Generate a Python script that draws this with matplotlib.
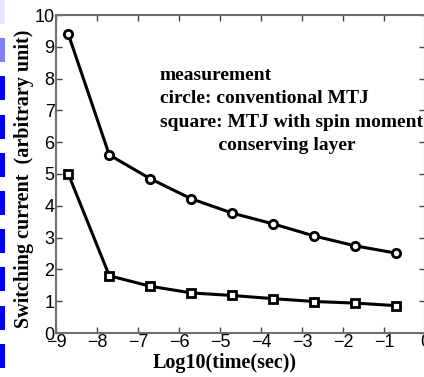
import matplotlib
matplotlib.use("Agg")
import matplotlib.pyplot as plt
from matplotlib.patches import Rectangle

# log10 of pulse time (s)
log_time = [-8.7, -7.7, -6.7, -5.7, -4.7, -3.7, -2.7, -1.7, -0.7]
# switching current, conventional MTJ (circles)
current_conv = [9.4, 5.6, 4.85, 4.22, 3.77, 3.43, 3.05, 2.74, 2.51]
# switching current, MTJ with spin moment conserving layer (squares)
current_smcl = [5.0, 1.8, 1.47, 1.26, 1.18, 1.08, 0.99, 0.94, 0.86]

x_ticks = [-9, -8, -7, -6, -5, -4, -3, -2, -1, 0]
y_ticks = list(range(0, 11))

note_lines = [
    "measurement",
    "circle: conventional MTJ",
    "square: MTJ with spin moment",
    "            conserving layer",
]

W, H = 424, 377
fig = plt.figure(figsize=(W / 100, H / 100), dpi=100)
fig.patch.set_facecolor("white")

# axes runs to the right edge of the canvas
ax = fig.add_axes([56 / W, 1 - 333 / H, 369 / W, 318 / H])

line_kw = dict(color="black", linewidth=2.2, markersize=6,
               markeredgewidth=2.0, markerfacecolor="white",
               markeredgecolor="black")
ax.plot(log_time, current_conv, marker="o", **line_kw)
ax.plot(log_time, current_smcl, marker="s", **line_kw)

ax.set_xlim(-9, 0)
ax.set_ylim(0, 10)
ax.set_xticks(x_ticks)
ax.set_yticks(y_ticks)
ax.tick_params(direction="in", top=True, right=True, length=4,
               width=1.0, color="#444444", labelsize=13, pad=1)
for lab in ax.get_xticklabels() + ax.get_yticklabels():
    lab.set_family("Liberation Sans")
for sp in ax.spines.values():
    sp.set_color("#6e6e6e")
    sp.set_linewidth(1.5)

serif_bold = dict(family="Liberation Serif", fontweight="bold")
ax.set_xlabel("Log10(time(sec))", fontsize=14.5, va="center", **serif_bold)
ax.set_ylabel("Switching current  (arbitrary unit)", fontsize=14.5,
              va="center", **serif_bold)
ax.xaxis.set_label_coords(0.458, -0.094)
ax.yaxis.set_label_coords(-0.087, 0.484)

for i, txt in enumerate(note_lines):
    fig.text(160 / W, 1 - (75 + i * 23.5) / H, txt, fontsize=14,
             va="center", ha="left", **serif_bold)

# dashed blue strip along the left edge
blues = ["#e6e6ff", "#8080ff"] + ["#0000ff"] * 8
for i, c in enumerate(blues):
    y0 = 0 + i * 38.2
    fig.patches.append(Rectangle((0, 1 - (y0 + 24) / H), 4.5 / W, 24 / H,
                                 transform=fig.transFigure, color=c,
                                 linewidth=0))

fig.savefig("out.png", dpi=100)
